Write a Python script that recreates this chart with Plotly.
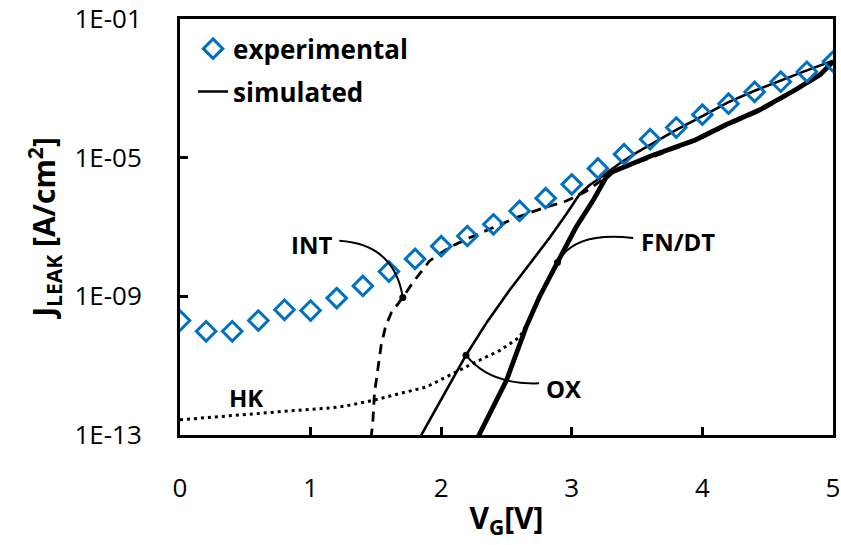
import numpy as np
import plotly.graph_objects as go

# Measured gate leakage
vg_exp = [0.0, 0.2, 0.4, 0.6, 0.8, 1.0, 1.2, 1.4, 1.6, 1.8, 2.0, 2.2, 2.4,
          2.6, 2.8, 3.0, 3.2, 3.4, 3.6, 3.8, 4.0, 4.2, 4.4, 4.6, 4.8, 5.0]
j_exp = [2.0e-10, 9.8e-11, 9.8e-11, 2.0e-10, 4.1e-10, 3.9e-10, 8.9e-10, 2.0e-9,
         5.2e-9, 1.2e-8, 2.8e-8, 5.5e-8, 1.2e-7, 2.9e-7, 6.8e-7, 1.7e-6, 4.9e-6,
         1.26e-5, 3.4e-5, 7.4e-5, 1.74e-4, 3.6e-4, 7.9e-4, 1.55e-3, 3.0e-3, 5.9e-3]

# Simulated: oxide path, continuing as the total at high bias (thin solid)
vg_ox = [1.83, 2.00, 2.19, 2.35, 2.52, 2.68, 2.83, 2.96, 3.06, 3.14, 3.21, 3.30,
         3.39, 3.50, 3.60, 3.80, 4.00, 4.20, 4.40, 4.60, 4.80, 5.00]
j_ox = [7.6e-14, 1.05e-12, 2.0e-11, 1.8e-10, 1.45e-9, 8.9e-9, 4.9e-8, 2.4e-7,
        8.9e-7, 1.66e-6, 2.5e-6, 4.5e-6, 7.9e-6, 1.41e-5, 2.3e-5, 6.3e-5,
        1.58e-4, 4.0e-4, 8.5e-4, 1.7e-3, 3.3e-3, 6.3e-3]

# Simulated: Fowler-Nordheim / direct tunnelling (thick solid)
vg_fn = [2.27, 2.40, 2.50, 2.65, 2.75, 2.89, 3.03, 3.16, 3.26, 3.31, 3.36, 3.42,
         3.60, 3.77, 3.95, 4.18, 4.44, 4.69, 4.90, 5.00]
j_fn = [7.1e-14, 7.1e-13, 3.8e-12, 1.3e-10, 9.3e-10, 9.5e-9, 9.5e-8, 5.6e-7,
        2.6e-6, 3.9e-6, 4.8e-6, 5.75e-6, 1.1e-5, 1.9e-5, 3.3e-5, 8.9e-5, 2.4e-4,
        8.1e-4, 2.45e-3, 5.9e-3]

# Simulated: interface-trap assisted current (dashed)
vg_int = [1.462, 1.476, 1.489, 1.515, 1.541, 1.575, 1.620, 1.668, 1.706, 1.783,
          1.910, 2.063, 2.217, 2.395, 2.574, 2.778, 2.957, 3.110, 3.237, 3.30,
          3.40, 3.60, 3.77, 3.95, 4.18, 4.44, 4.69, 4.90, 5.00]
j_int = [7.9e-14, 2.2e-13, 1.6e-12, 9.1e-12, 4.0e-11, 1.4e-10, 3.5e-10, 6.0e-10,
         9.3e-10, 2.5e-9, 1.05e-8, 2.6e-8, 4.9e-8, 9.5e-8, 1.86e-7, 3.5e-7,
         5.6e-7, 1.07e-6, 2.3e-6, 3.5e-6, 5.2e-6, 1.0e-5, 1.8e-5, 3.1e-5,
         8.3e-5, 2.2e-4, 7.6e-4, 2.3e-3, 5.6e-3]

# Simulated: high-k bulk current (dotted)
vg_hk = [0.00, 0.38, 0.61, 0.76, 1.15, 1.27, 1.48, 1.63, 1.89, 2.09, 2.24, 2.45,
         2.60, 2.65]
j_hk = [2.75e-13, 3.5e-13, 4.2e-13, 4.7e-13, 6.0e-13, 6.9e-13, 1.0e-12, 1.4e-12,
        2.45e-12, 5.9e-12, 1.15e-11, 2.75e-11, 6.6e-11, 1.45e-10]

y_tickvals = [1e-13, 1e-9, 1e-5, 1e-1]
y_ticktext = ["1E-13", "1E-09", "1E-05", "1E-01"]
x_tickvals = [0, 1, 2, 3, 4, 5]

X_RANGE = (0.0, 5.0)
Y_RANGE = (-13.0, -1.0)

BLUE = "#0070C0"
FONT = "Open Sans"


def to_paper(v, j):
    """Data point -> paper fraction for the current axis ranges."""
    xp = (v - X_RANGE[0]) / (X_RANGE[1] - X_RANGE[0])
    yp = (np.log10(j) - Y_RANGE[0]) / (Y_RANGE[1] - Y_RANGE[0])
    return xp, yp


fig = go.Figure()

fig.add_trace(go.Scatter(
    x=vg_hk, y=j_hk, mode="lines", showlegend=False,
    line=dict(color="black", width=3, dash="3px,4px")))
fig.add_trace(go.Scatter(
    x=vg_int, y=j_int, mode="lines", showlegend=False,
    line=dict(color="black", width=2.8, dash="10px,7px")))
fig.add_trace(go.Scatter(
    x=vg_fn, y=j_fn, mode="lines", showlegend=False,
    line=dict(color="black", width=4.8)))
fig.add_trace(go.Scatter(
    x=vg_ox, y=j_ox, mode="lines", name="simulated",
    legendgroup="sim", legendrank=2,
    line=dict(color="black", width=2.6)))
fig.add_trace(go.Scatter(
    x=vg_exp, y=j_exp, mode="markers", name="experimental",
    legendgroup="exp", legendrank=1,
    marker=dict(symbol="diamond-open", size=15, color=BLUE,
                line=dict(color=BLUE, width=3))))

# Curve labels with leaders ending on a point of the labelled curve
labels = [
    # text, (x, y) of label, leader start, control point, curve, point index
    ("INT", (1.005, 3.2e-8), (1.22, 4.0e-8), (1.64, 3.2e-8), vg_int, j_int, 8),
    ("FN/DT", (3.81, 3.7e-8), (3.47, 4.8e-8), (3.02, 7.7e-8), vg_fn, j_fn, 5),
    ("OX", (2.944, 2.2e-12), (2.75, 3.1e-12), (2.37, 2.75e-12), vg_ox, j_ox, 2),
]
end_x, end_y = [], []
for text, (lx, ly), start, ctrl, vs, js, k in labels:
    ex, ey = vs[k], js[k]
    end_x.append(ex)
    end_y.append(ey)
    x0, y0 = to_paper(*start)
    cx, cy = to_paper(*ctrl)
    x1, y1 = to_paper(ex, ey)
    fig.add_shape(type="path", xref="paper", yref="paper",
                  path=f"M {x0},{y0} Q {cx},{cy} {x1},{y1}",
                  line=dict(color="black", width=2))
    fig.add_annotation(x=lx, y=np.log10(ly), text=f"<b>{text}</b>",
                       showarrow=False, xref="x", yref="y",
                       font=dict(family=FONT, size=24, color="black"))

fig.add_annotation(x=0.509, y=np.log10(1.23e-12), text="<b>HK</b>",
                   showarrow=False, xref="x", yref="y",
                   font=dict(family=FONT, size=24, color="black"))

fig.add_trace(go.Scatter(
    x=end_x, y=end_y, mode="markers", showlegend=False,
    marker=dict(color="black", size=7)))

fig.update_layout(
    width=841, height=545,
    margin=dict(l=180, r=8, t=19, b=110),
    paper_bgcolor="white", plot_bgcolor="white",
    font=dict(family=FONT, color="black"),
    legend=dict(x=0.02, y=0.985, xanchor="left", yanchor="top",
                bgcolor="rgba(0,0,0,0)", traceorder="grouped",
                tracegroupgap=6,
                font=dict(family=FONT, size=26, color="black", weight="bold")),
)

fig.update_xaxes(
    range=list(X_RANGE), tickvals=x_tickvals, automargin=False,
    showgrid=False, zeroline=False,
    showline=True, linecolor="black", linewidth=3, mirror=True,
    ticks="inside", ticklen=8, tickwidth=3, tickcolor="black",
    ticklabelstandoff=28, ticklabeloverflow="allow",
    tickfont=dict(family=FONT, size=26, color="black"),
    title=dict(text="<b>V<sub>G</sub>[V]</b>", standoff=4,
               font=dict(family=FONT, size=30, color="black")),
)
fig.update_yaxes(
    type="log", range=list(Y_RANGE), automargin=False,
    tickmode="array", tickvals=y_tickvals, ticktext=y_ticktext,
    showgrid=False, zeroline=False,
    showline=True, linecolor="black", linewidth=3, mirror=True,
    ticks="inside", ticklen=8, tickwidth=3, tickcolor="black",
    ticklabelstandoff=30, ticklabeloverflow="allow",
    tickfont=dict(family=FONT, size=26, color="black"),
    title=dict(text="<b>J<sub>LEAK</sub> [A/cm<sup>2</sup>]</b>", standoff=10,
               font=dict(family=FONT, size=30, color="black")),
)

fig.write_html("out.html")
